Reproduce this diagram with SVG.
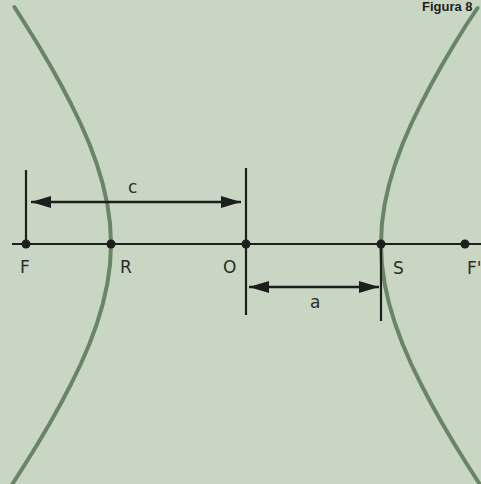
<svg xmlns="http://www.w3.org/2000/svg" width="481" height="484" viewBox="0 0 481 484">
<defs>
<style>
.bg{fill:#c9d6c4}
.curve{fill:none;stroke:#6a8566;stroke-width:4;stroke-linecap:round;stroke-linejoin:round}
.line{fill:none;stroke:#1c1f1b;stroke-width:2.2}
.dim{fill:none;stroke:#1c1f1b;stroke-width:2.4}
.dot{fill:#1c1f1b}
.lbl{font-family:"DejaVu Sans","Liberation Sans",sans-serif;font-size:17px;fill:#2a2d29}
.title{font-family:"Liberation Sans",Arial,sans-serif;font-size:13px;font-weight:bold;fill:#1c1f1b}
</style>
<marker id="ah" viewBox="0 0 20 12" refX="20" refY="6" markerWidth="20" markerHeight="12" markerUnits="userSpaceOnUse" orient="auto-start-reverse">
<path d="M0,0 L20,6 L0,12 Z" fill="#1c1f1b"/>
</marker>
</defs>
<rect class="bg" x="0" y="0" width="481" height="484"/>
<text class="title" x="422" y="11">Figura 8</text>
<g id="hyperbola">
<path id="left-branch" class="curve" d="M14.4,7 L25.2,24 L37.6,44 L49.4,64 L60.6,84 L71.1,104 L80.8,124 L89.4,144 L96.8,164 L102.8,184 L107.3,204 L110.1,224 L111,244 L110.1,264 L107.3,284 L102.8,304 L96.8,324 L89.4,344 L80.8,364 L71.1,384 L60.6,404 L49.4,424 L37.6,444 L25.2,464 L12.4,484 L5.9,494"/>
<path id="right-branch" class="curve" d="M477.6,8 L466.8,24 L454.4,44 L442.6,64 L431.4,84 L420.9,104 L411.2,124 L402.6,144 L395.2,164 L389.2,184 L384.7,204 L381.9,224 L381,244 L381.9,264 L384.7,284 L389.2,304 L395.2,324 L402.6,344 L411.2,364 L420.9,384 L431.4,404 L442.6,424 L454.4,444 L466.8,464 L479.6,484 L486.1,494"/>
</g>
<g id="connectors">
<line class="line" x1="12" y1="244" x2="481" y2="244"/>
<line class="line" x1="26" y1="170" x2="26" y2="244"/>
<line class="line" x1="246" y1="168" x2="246" y2="315"/>
<line class="line" x1="381" y1="244" x2="381" y2="321"/>
<line class="dim" x1="31" y1="202" x2="241" y2="202" marker-start="url(#ah)" marker-end="url(#ah)"/>
<line class="dim" x1="249" y1="287" x2="379" y2="287" marker-start="url(#ah)" marker-end="url(#ah)"/>
</g>
<g id="F"><circle class="dot" cx="26" cy="244" r="4.5"/><text class="lbl" x="20" y="273">F</text></g>
<g id="R"><circle class="dot" cx="111" cy="244" r="4.5"/><text class="lbl" x="120" y="273">R</text></g>
<g id="O"><circle class="dot" cx="246" cy="244" r="4.5"/><text class="lbl" x="223" y="273">O</text></g>
<g id="S"><circle class="dot" cx="381" cy="244" r="4.5"/><text class="lbl" x="393" y="274">S</text></g>
<g id="F2"><circle class="dot" cx="465" cy="244" r="4.5"/><text class="lbl" x="467" y="274">F'</text></g>
<g id="c-label"><text class="lbl" x="128" y="193">c</text></g>
<g id="a-label"><text class="lbl" x="310" y="308">a</text></g>
</svg>
